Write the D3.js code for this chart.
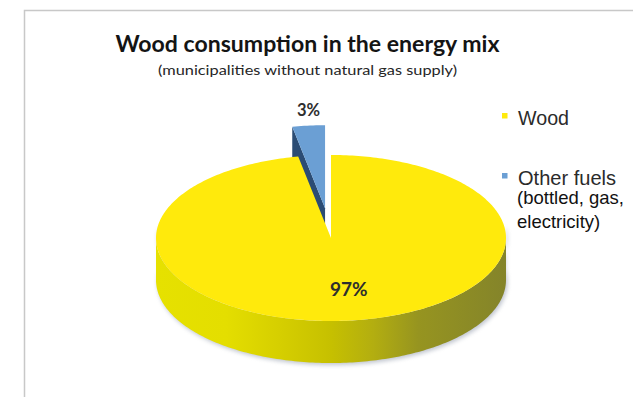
<!DOCTYPE html>
<html>
<head>
<meta charset="utf-8">
<script src="https://cdn.jsdelivr.net/npm/d3@7"></script>
<style>
  html, body { margin: 0; padding: 0; background: #fff; }
  svg { display: block; }
</style>
</head>
<body>
<svg id="chart" width="633" height="397"></svg>
<script>
// Energy mix data
const categories = ["Wood", "Other fuels"];
const values = [97, 3];
const valueLabels = ["97%", "3%"];
const legendNote = ["(bottled, gas,", "electricity)"];
const titleText = "Wood consumption in the energy mix";
const subtitleText = "(municipalities without natural gas supply)";

// Styling
const topColors = ["#ffea0c", "#6b9fd4"];
const sideColors = ["#c8c200", "#2b4c74"];
const explodeBy = [0, 0.36];

const W = 633, H = 397;
const svg = d3.select("#chart");
const defs = svg.append("defs");

// Frame
svg.append("path")
  .attr("d", `M${W + 2},10.5 H24.5 V${H + 2}`)
  .attr("fill", "none")
  .attr("stroke", "#c8c8c8")
  .attr("stroke-width", 1.5);

// Title
svg.append("text")
  .attr("x", 307.5).attr("y", 52)
  .attr("text-anchor", "middle")
  .attr("font-family", "Lato, 'Open Sans', sans-serif")
  .attr("font-weight", 700)
  .attr("font-size", 23)
  .attr("textLength", 384)
  .attr("lengthAdjust", "spacingAndGlyphs")
  .attr("fill", "#141414")
  .text(titleText);
svg.append("text")
  .attr("x", 307.5).attr("y", 75)
  .attr("text-anchor", "middle")
  .attr("font-family", "Lato, 'Open Sans', sans-serif")
  .attr("font-size", 14)
  .attr("textLength", 299)
  .attr("lengthAdjust", "spacingAndGlyphs")
  .attr("fill", "#262626")
  .text(subtitleText);

// 3D pie geometry (angles clockwise from 12 o'clock, as d3.pie gives them)
const cx = 331, cy = 238, rx = 175, ry = 83, depth = 42;
const pie = d3.pie().sort(null).value(d => d)(values);

function pt(a, r, ox, oy, dz) {
  return [cx + ox + rx * r * Math.sin(a), cy + oy - ry * r * Math.cos(a) + dz];
}
function arcPoints(a0, a1, ox, oy, dz) {
  const n = Math.max(2, Math.ceil(Math.abs(a1 - a0) / (Math.PI / 180)));
  return d3.range(n + 1).map(i => pt(a0 + (a1 - a0) * i / n, 1, ox, oy, dz));
}
const line = d3.line();

// Horizontal shading for the outer wall
const grad = defs.append("linearGradient")
  .attr("id", "wallGrad")
  .attr("gradientUnits", "userSpaceOnUse")
  .attr("x1", cx - rx).attr("x2", cx + rx).attr("y1", 0).attr("y2", 0);
[[0, "#e6e100"], [0.2, "#e4de00"], [0.35, "#d6cf00"], [0.5, "#c6c000"],
 [0.62, "#b3ae10"], [0.75, "#969420"], [1, "#84842a"]]
  .forEach(([o, c]) => grad.append("stop").attr("offset", o).attr("stop-color", c));

const blur = defs.append("filter").attr("id", "soft")
  .attr("x", "-10%").attr("y", "-10%").attr("width", "120%").attr("height", "130%");
blur.append("feGaussianBlur").attr("stdDeviation", 2);

const slices = pie.map((p, i) => {
  const mid = (p.startAngle + p.endAngle) / 2;
  const e = explodeBy[i];
  return { ...p, i, ox: rx * e * Math.sin(mid), oy: -ry * e * Math.cos(mid) };
});

const g = svg.append("g");

// Soft shadow under the disc
const frontA = Math.PI / 2, backA = 3 * Math.PI / 2;
g.append("path")
  .attr("d", line([...arcPoints(frontA - 0.15, backA + 0.15, 1.5, 1, 0),
                  ...arcPoints(backA + 0.15, frontA - 0.15, 1.5, 1, depth + 1)]) + "Z")
  .attr("fill", "#8d96a8")
  .attr("opacity", 0.55)
  .attr("filter", "url(#soft)");

// Back slices first (painter's order by how far back the slice centre sits)
const order = slices.slice().sort((a, b) => {
  const ma = (a.startAngle + a.endAngle) / 2, mb = (b.startAngle + b.endAngle) / 2;
  return Math.cos(mb) - Math.cos(ma);
});

order.forEach(s => {
  const { ox, oy, i } = s;
  const a0 = s.startAngle, a1 = s.endAngle;

  // Cut faces (radial walls) facing the viewer
  [[a0, a0 - Math.PI / 2], [a1, a1 + Math.PI / 2]].forEach(([a, nA]) => {
    if (-Math.cos(nA) > 1e-6 && (a1 - a0) < 2 * Math.PI - 1e-6) {
      const c0 = pt(0, 0, ox, oy, 0), p0 = pt(a, 1, ox, oy, 0);
      g.append("path")
        .attr("d", line([c0, p0, [p0[0], p0[1] + depth], [c0[0], c0[1] + depth]]) + "Z")
        .attr("fill", sideColors[i]);
    }
  });

  // Outer wall: only the front half of the rim is visible
  const s0 = Math.max(a0, frontA), s1 = Math.min(a1, backA);
  if (s1 > s0) {
    g.append("path")
      .attr("d", line([...arcPoints(s0, s1, ox, oy, 0), ...arcPoints(s1, s0, ox, oy, depth)]) + "Z")
      .attr("fill", i === 0 ? "url(#wallGrad)" : sideColors[i]);
  }

  // Top face
  g.append("path")
    .attr("d", line([pt(0, 0, ox, oy, 0), ...arcPoints(a0, a1, ox, oy, 0)]) + "Z")
    .attr("fill", topColors[i]);
});

// Value labels
slices.forEach(s => {
  const mid = (s.startAngle + s.endAngle) / 2;
  let x, y;
  if (s.i === 0) {
    [x, y] = pt(mid, 0.65, s.ox, s.oy, 0);
    x += 7; y += 4;
  } else {
    [x, y] = pt(mid, 1, s.ox, s.oy, 0);
    y -= 10;
  }
  svg.append("text")
    .attr("x", x).attr("y", y)
    .attr("text-anchor", "middle")
    .attr("font-family", "Lato, 'Open Sans', sans-serif")
    .attr("font-weight", 700)
    .attr("font-size", s.i === 0 ? 19 : 16.5)
    .attr("fill", "#2e2e2e")
    .text(valueLabels[s.i]);
});

// Legend
const legendY = d3.scalePoint().domain(categories).range([125, 185]);
const lg = svg.append("g");
categories.forEach((c, i) => {
  const y = legendY(c);
  lg.append("rect")
    .attr("x", 502).attr("y", y - 12).attr("width", 5.5).attr("height", 5.5)
    .attr("fill", topColors[i]);
  lg.append("text")
    .attr("x", 518).attr("y", y)
    .attr("font-family", "'Liberation Sans', Arial, sans-serif")
    .attr("font-size", 19.5)
    .attr("textLength", c === "Wood" ? 51 : 98)
    .attr("lengthAdjust", "spacingAndGlyphs")
    .attr("fill", "#2b2b2b")
    .text(c);
});
legendNote.forEach((t, k) => {
  lg.append("text")
    .attr("x", 517).attr("y", 204 + k * 24)
    .attr("font-family", "'Liberation Sans', Arial, sans-serif")
    .attr("font-size", 18.5)
    .attr("fill", "#111")
    .text(t);
});
</script>
</body>
</html>
